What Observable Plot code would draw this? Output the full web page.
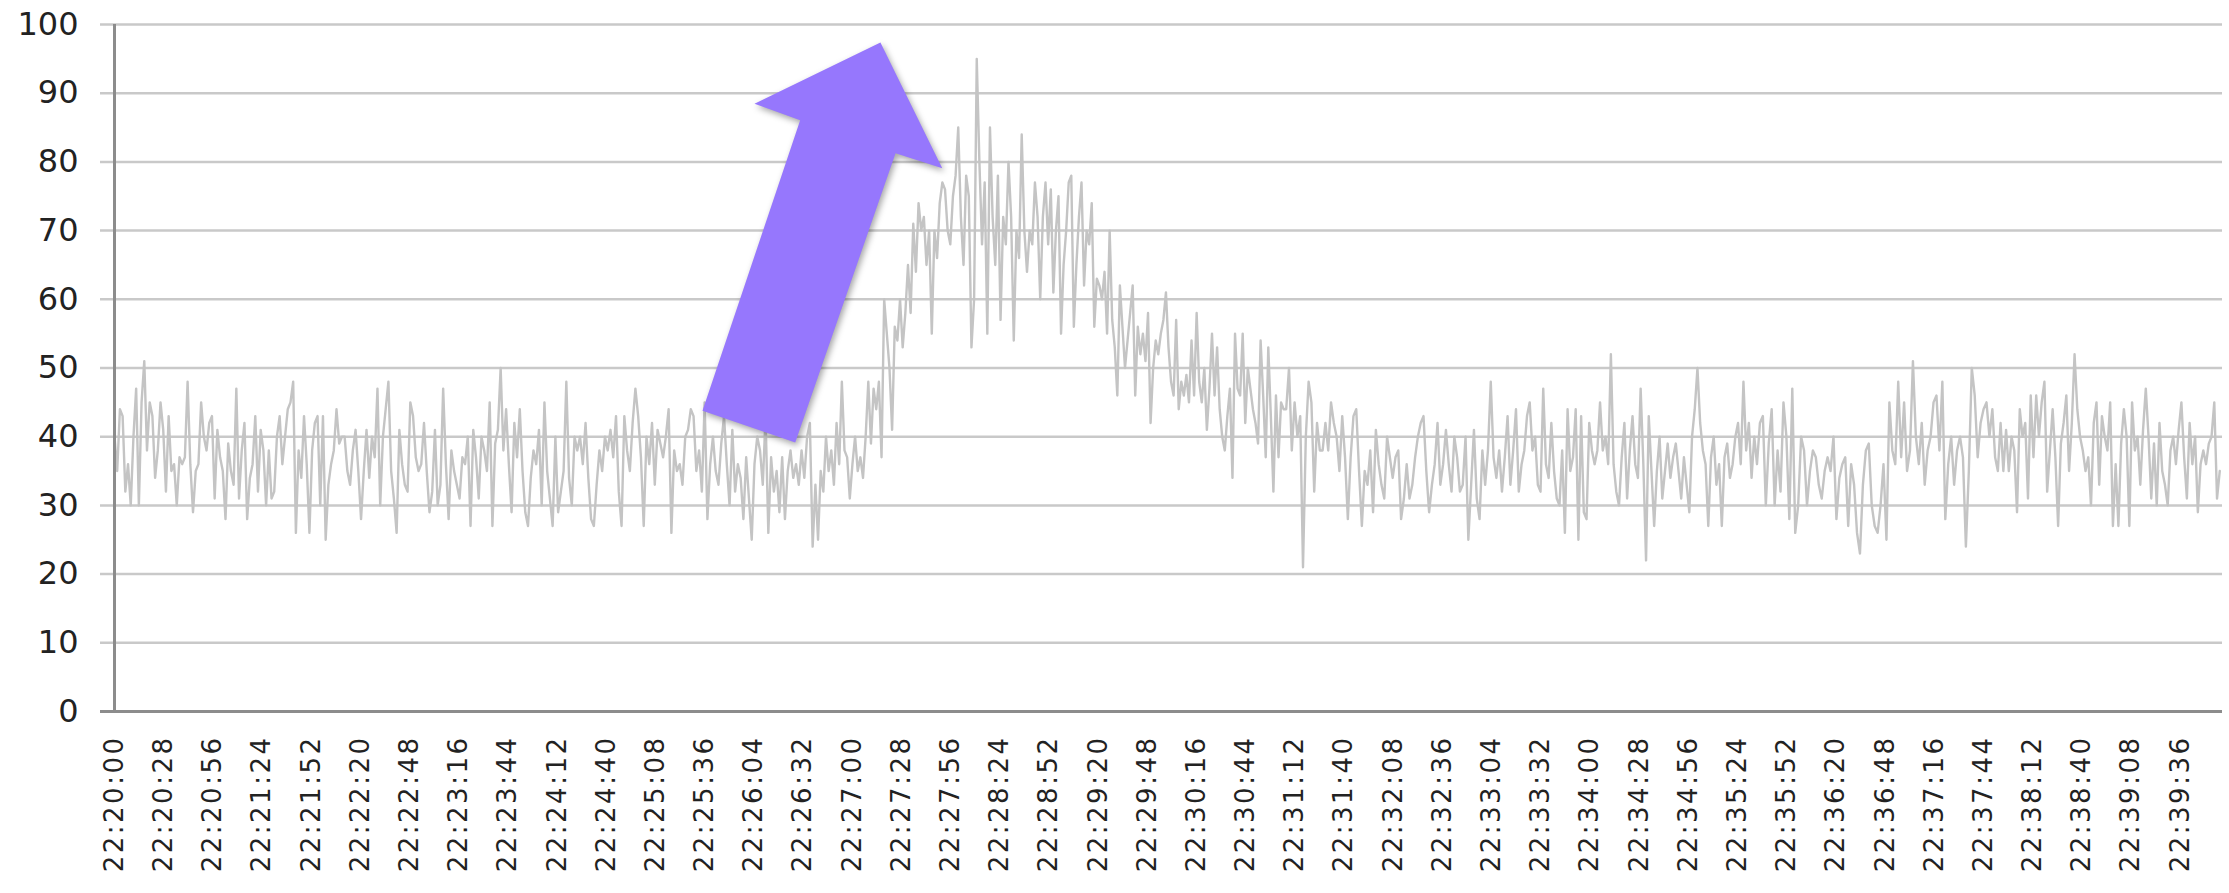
<!DOCTYPE html>
<html><head><meta charset="utf-8">
<script src="https://cdn.jsdelivr.net/npm/d3@7"></script>
<script src="https://cdn.jsdelivr.net/npm/@observablehq/plot@0.6"></script>
<style>body{margin:0;background:#fff} svg{display:block}</style>
</head><body><div id="chart"></div>
<script>
// Time series (one list per stretch of the x axis)
const seg1 = [40,35,44,43,32,36,30,40,47,30,45,51,38,45,43,34,38,45,41,32,43,35,36,30,37,36,37,48,36,29,35,36,45,40,38,42,43,31,41,37,35,28,39,35,33,47,31,38,42,28,34,36,43,32,41,38,30,38,31,32,40,43,36,40,44,45,48,26,38,34,43,36,26,38,42,43,30,43,25,33,36,38,44,39,40];
const seg2 = [40,35,33,38,41,35,28,35,41,34,40,37,47,30,40,44,48,35,31,26,41,36,33,32,45,43,37,35,36,42,35,29,32,41,30,33,47,36,28,38,35,33,31,37,36,40,27,41,37,31,40,38,35,45,27,39,41,50,38,44,36,29,42,37,44,35,29,27,34,38,36,41,30,45,35,31,27,40,29,32,35,48,34,30,40,38];
const seg3 = [40,36,42,34,28,27,33,38,35,40,38,41,37,43,32,27,43,38,35,42,47,43,37,27,40,36,42,33,41,39,37,40,44,26,38,35,36,33,40,41,44,43,35,38,32,45,28,36,40,35,33,39,43,36,30,41,32,36,34,28,37,31,25,36,40,38,33,43,26,37,32,35,29,37,28,35,38,34,36,33,38,34,40,42,24];
const seg4 = [33,25,35,32,40,35,38,33,42,36,48,38,37,31,36,40,35,37,34,40,48,39,47,44,48,37,60,55,50,41,56,54,60,53,58,65,58,71,64,74,70,72,65,70,55,70,66,74,77,76,70,68,75,78,85,72,65,78,75,53,60,95,80,68,77,55,85,72,65,78,57,72,68,80,72,54,70,66,84,70,64,70,68,77,72,60,72,77,68];
const seg5 = [76,61,70,75,55,65,70,77,78,56,65,72,77,62,70,68,74,56,63,62,60,64,55,70,57,53,46,62,56,50,54,58,62,46,56,52,55,51,58,42,50,54,52,55,57,61,53,48,46,57,44,48,46,49,45,54,46,58,48,45,50,41,47,55,46,53,44,40,38,43,47,34,55,47,46,55,42,50,47,44,42,39,54,46,37,53,43,32,46,37,45,44];
const seg6 = [44,50,38,45,40,43,21,40,48,45,32,42,38,38,42,38,45,42,40,35,43,37,28,37,43,44,35,27,35,33,38,29,41,36,33,31,40,37,34,37,38,28,31,36,31,33,37,40,42,43,35,29,33,36,42,33,36,41,36,32,40,37,32,33,40,25,33,41,31,28,38,33,38,48,37,34,38,32,37,43,33,38,44,32];
const seg7 = [36,38,43,45,38,40,33,32,47,36,34,42,35,31,30,38,26,44,35,37,44,25,43,29,28,42,38,36,38,45,38,40,36,52,36,32,30,37,42,31,38,43,36,34,47,36,22,43,35,27,35,40,31,35,39,34,37,39,35,31,37,33,29,40,44,50,42,38,36,27,37,40,33,36,27,37,39,34,36,40,42,36,48,38,42,34,40];
const seg8 = [36,42,43,30,39,44,30,38,32,45,40,28,47,26,30,40,38,30,35,38,37,33,31,35,37,35,40,28,34,36,37,27,36,33,26,23,33,38,39,30,27,26,30,36,25,45,38,36,48,37,45,35,38,51,40,36,42,33,38,40,45,46,38,48,28,36,40,33,38,40,37,24,35,50,46,37,42,44,45,40];
const seg9 = [44,37,35,42,35,41,35,40,38,29,44,40,42,31,46,37,46,40,45,48,32,38,44,37,27,39,42,46,35,42,52,44,40,38,35,37,30,42,45,33,43,40,38,45,27,36,27,39,44,40,27,45,38,40,33,41,47,40,31,39,30,42,35,33,30,38,40,36,41,45,37,31,42,36,40,29,36,38,36,39,40,45,31,35];
const segments = [seg1, seg2, seg3, seg4, seg5, seg6, seg7, seg8, seg9];
// seconds after 22:20:00 at which each stretch starts (last = end of axis)
const segStartSec = [0, 131, 265, 399, 533, 667, 801, 935, 1069, 1200];

// Axis ticks
const yTicks = [0,10,20,30,40,50,60,70,80,90,100];
const xTickLabels = ["22:20:00","22:20:28","22:20:56","22:21:24","22:21:52","22:22:20","22:22:48","22:23:16","22:23:44","22:24:12","22:24:40","22:25:08","22:25:36","22:26:04","22:26:32","22:27:00","22:27:28","22:27:56","22:28:24","22:28:52","22:29:20","22:29:48","22:30:16","22:30:44","22:31:12","22:31:40","22:32:08","22:32:36","22:33:04","22:33:32","22:34:00","22:34:28","22:34:56","22:35:24","22:35:52","22:36:20","22:36:48","22:37:16","22:37:44","22:38:12","22:38:40","22:39:08","22:39:36"];

// Arrow annotation outline in data space (seconds after 22:20:00, value)
const arrowSec = [436.3, 471.5, 444.9, 387.8, 335.0, 390.6, 364.6];
const arrowVal = [97.3, 79.0, 81.2, 39.1, 43.7, 86.0, 88.4];

const T = s => new Date(Date.UTC(2000, 0, 1, 22, 20, 0) + s * 1000);
const parseHMS = d3.utcParse("%Y-%m-%d %H:%M:%S");
const xTicks = xTickLabels.map(l => parseHMS("2000-01-01 " + l));

const data = [];
segments.forEach((vals, k) => {
  const t0 = segStartSec[k], t1 = segStartSec[k + 1];
  const n = vals.length;
  vals.forEach((v, j) => data.push({t: T(t0 + j * (t1 - t0) / n), v}));
});
const arrow = arrowSec.map((s, i) => ({t: T(s), v: arrowVal[i]}));

// custom mark: filled arrow polygon positioned through the plot's scales
function arrowMark(index, scales) {
  const pts = arrow.map(d => [scales.x(d.t), scales.y(d.v)]);
  const p = d3.create("svg:path")
    .attr("d", "M" + pts.map(p => p.join(",")).join("L") + "Z")
    .attr("fill", "#9677fd")
    .style("filter", "drop-shadow(2px 3px 3px rgba(0,0,0,0.35))");
  return p.node();
}

const plot = Plot.plot({
  width: 2229, height: 893,
  marginTop: 24, marginBottom: 182, marginLeft: 114, marginRight: 7,
  style: {background: "white", fontFamily: "DejaVu Sans, Verdana, sans-serif", color: "#222", overflow: "visible"},
  x: {type: "utc", domain: [T(0), T(1200)]},
  y: {domain: [0, 100]},
  marks: [
    Plot.ruleY(yTicks, {stroke: "#c9c9c9", strokeWidth: 2.5, insetLeft: -14}),
    Plot.line(data, {x: "t", y: "v", stroke: "#c4c4c4", strokeWidth: 2.4}),
    Plot.ruleX([T(0)], {stroke: "#8c8c8c", strokeWidth: 3}),
    Plot.ruleY([0], {stroke: "#8c8c8c", strokeWidth: 3, insetLeft: -14}),
    Plot.axisY({ticks: yTicks, tickSize: 0, tickPadding: 36, fontSize: 32, label: null}),
    Plot.axisX({ticks: xTicks, tickFormat: d3.utcFormat("%H:%M:%S"), tickRotate: -90, tickSize: 0, tickPadding: 24, fontSize: 26, label: null}),
    arrowMark
  ]
});
document.getElementById("chart").appendChild(plot);
d3.select(plot).selectAll('g[aria-label="x-axis tick label"] text').style("letter-spacing", "2.5px");
</script>
</body></html>
